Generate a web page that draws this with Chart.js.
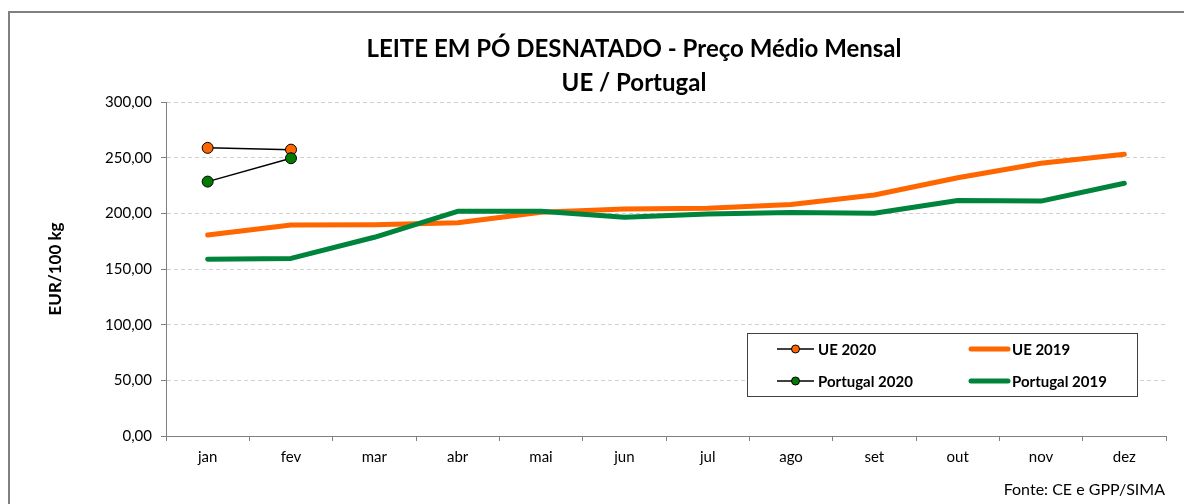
<!DOCTYPE html>
<html>
<head>
<meta charset="utf-8">
<script src="https://cdn.jsdelivr.net/npm/chart.js@4"></script>
<style>
  html, body { margin: 0; padding: 0; background: #fff; }
  #wrap { position: relative; width: 1184px; height: 504px; overflow: hidden; }
  #frame { position: absolute; left: 8px; top: 11px; width: 1200px; height: 520px;
           border: 2px solid #808080; box-sizing: border-box; }
  #c { position: absolute; left: 0; top: 0; }
</style>
</head>
<body>
<div id="wrap">
  <div id="frame"></div>
  <canvas id="c" width="1184" height="504"></canvas>
</div>
<script>
/* ---- Data ---- */
const months = ['jan', 'fev', 'mar', 'abr', 'mai', 'jun', 'jul', 'ago', 'set', 'out', 'nov', 'dez'];

const ue2020       = [258.8, 257.2, null, null, null, null, null, null, null, null, null, null];
const ue2019       = [180.5, 189.5, 189.8, 191.5, 201.0, 204.0, 204.5, 208.0, 216.5, 232.0, 245.0, 253.0];
const portugal2020 = [228.5, 249.5, null, null, null, null, null, null, null, null, null, null];
const portugal2019 = [158.8, 159.5, 178.5, 201.8, 201.8, 196.5, 199.5, 200.8, 200.0, 211.5, 211.0, 227.0];

const yTicks = { min: 0, max: 300, step: 50 };

const titleLines = ['LEITE EM PÓ DESNATADO - Preço Médio Mensal', 'UE / Portugal'];
const sourceText = 'Fonte: CE e GPP/SIMA';

const ORANGE = '#FF6600';
const GREEN_LINE = '#00843C';
const GREEN_DOT = '#007A00';
const FONT = "Lato, 'Open Sans', sans-serif";

/* ---- Title + source text ---- */
const headerPlugin = {
  id: 'headerText',
  afterDraw(chart) {
    const ctx = chart.ctx;
    ctx.save();
    ctx.fillStyle = '#000';
    ctx.textAlign = 'center';
    ctx.textBaseline = 'middle';
    ctx.font = `bold 24px ${FONT}`;
    ctx.fillText(titleLines[0], 634, 49);
    ctx.fillText(titleLines[1], 634, 83);
    ctx.font = `16px ${FONT}`;
    ctx.textAlign = 'right';
    ctx.fillText(sourceText, 1165, 490);
    ctx.restore();
  }
};

/* ---- Legend box inside the plot ---- */
const legendPlugin = {
  id: 'boxLegend',
  afterDraw(chart) {
    const ctx = chart.ctx;
    const box = { x: 747, y: 333, w: 390, h: 63 };
    const slots = [
      { x: 777, y: 349 }, { x: 971, y: 349 },
      { x: 777, y: 381 }, { x: 971, y: 381 },
    ];
    ctx.save();
    ctx.fillStyle = '#fff';
    ctx.fillRect(box.x, box.y, box.w, box.h);
    ctx.strokeStyle = '#404040';
    ctx.lineWidth = 1;
    ctx.strokeRect(box.x + 0.5, box.y + 0.5, box.w, box.h);

    chart.data.datasets.forEach((ds, i) => {
      const s = slots[i];
      const len = 37;
      ctx.beginPath();
      ctx.moveTo(s.x, s.y);
      ctx.lineTo(s.x + len, s.y);
      ctx.strokeStyle = ds.borderColor;
      ctx.lineWidth = ds.borderWidth;
      ctx.lineCap = ds.pointRadius ? 'butt' : 'round';
      ctx.stroke();
      if (ds.pointRadius) {
        ctx.beginPath();
        ctx.arc(s.x + len / 2, s.y, 4, 0, Math.PI * 2);
        ctx.fillStyle = ds.pointBackgroundColor;
        ctx.fill();
        ctx.lineWidth = 1;
        ctx.strokeStyle = '#000';
        ctx.stroke();
      }
      ctx.fillStyle = '#000';
      ctx.font = `bold 15px ${FONT}`;
      ctx.textAlign = 'left';
      ctx.textBaseline = 'middle';
      ctx.fillText(ds.label, s.x + len + 4, s.y + 1);
    });
    ctx.restore();
  }
};

const fmt = v => v.toFixed(2).replace('.', ',');

new Chart(document.getElementById('c'), {
  type: 'line',
  data: {
    labels: months,
    datasets: [
      {
        label: 'UE 2020', data: ue2020, order: 1,
        borderColor: '#000', borderWidth: 1.5,
        pointRadius: 5.5, pointBackgroundColor: ORANGE, pointBorderColor: '#000', pointBorderWidth: 1,
      },
      {
        label: 'UE 2019', data: ue2019, order: 3,
        borderColor: ORANGE, borderWidth: 5, pointRadius: 0,
        borderCapStyle: 'round', borderJoinStyle: 'round',
      },
      {
        label: 'Portugal 2020', data: portugal2020, order: 0,
        borderColor: '#000', borderWidth: 1.5,
        pointRadius: 5.5, pointBackgroundColor: GREEN_DOT, pointBorderColor: '#000', pointBorderWidth: 1,
      },
      {
        label: 'Portugal 2019', data: portugal2019, order: 2,
        borderColor: GREEN_LINE, borderWidth: 5, pointRadius: 0,
        borderCapStyle: 'round', borderJoinStyle: 'round',
      },
    ],
  },
  options: {
    responsive: false,
    animation: false,
    layout: { padding: { left: 0, right: 18, top: 102, bottom: 0 } },
    plugins: {
      legend: { display: false },
      title: { display: false },
      tooltip: { enabled: false },
    },
    elements: { line: { tension: 0 } },
    scales: {
      x: {
        offset: true,
        grid: { offset: true, drawOnChartArea: false, drawTicks: true, tickLength: 5, color: '#808080' },
        border: { color: '#808080', width: 1 },
        ticks: { color: '#000', padding: 7, font: { family: FONT, size: 15 }, maxRotation: 0 },
        afterFit(scale) { scale.height = 68; },
      },
      y: {
        min: yTicks.min, max: yTicks.max,
        grid: { color: '#d0d0d0', tickColor: '#808080', tickLength: 5 },
        border: { color: '#808080', width: 1, dash: [4, 3] },
        ticks: { stepSize: yTicks.step, color: '#000', padding: 9, font: { family: FONT, size: 15 }, callback: fmt },
        title: { display: true, text: 'EUR/100 kg', color: '#000', font: { family: FONT, size: 17, weight: 'bold' }, padding: { top: 45, bottom: 0 } },
        afterFit(scale) { scale.width = 166; },
      },
    },
  },
  plugins: [headerPlugin, legendPlugin],
});
</script>
</body>
</html>
